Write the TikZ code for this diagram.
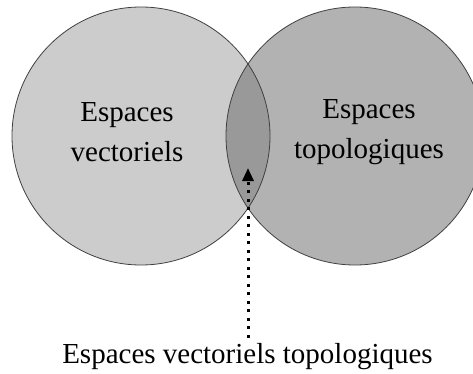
\documentclass[tikz,border=0pt]{standalone}
\usepackage{fontspec}
\setmainfont{Liberation Serif}
\usetikzlibrary{arrows.meta}
\definecolor{leftfill}{gray}{0.80}
\definecolor{rightfill}{gray}{0.70}
\definecolor{lensfill}{gray}{0.60}
\definecolor{edge}{gray}{0.25}
\tikzset{
  setcircle/.style={draw=edge, line width=0.8pt},
  labeltext/.style={font=\fontsize{29}{40}\selectfont, align=center, inner sep=0pt},
  pointer/.style={line width=3pt, dash pattern=on 3pt off 5.5pt, -{Triangle[width=11pt,length=13pt]}}
}
\begin{document}
\begin{tikzpicture}[x=1pt,y=-1pt]
\useasboundingbox (0,0) rectangle (473,374);
\clip (0,0) rectangle (473,374);
\coordinate (cl) at (141,136);
\coordinate (cr) at (355,136);
\fill[leftfill] (cl) circle[radius=129];
\fill[rightfill] (cr) circle[radius=129];
\begin{scope}
  \clip (cl) circle[radius=129];
  \fill[lensfill] (cr) circle[radius=129];
\end{scope}
\draw[setcircle] (cl) circle[radius=129];
\draw[setcircle] (cr) circle[radius=129];
\node[labeltext] (vect) at (127,132) {Espaces\\vectoriels};
\node[labeltext] (topo) at (369,132) {Espaces\\topologiques};
\node[labeltext, anchor=base] (evt) at (247.5,363) {Espaces vectoriels topologiques};
\coordinate (tip) at (248,168);
\draw[pointer] ([yshift=5pt]evt.north -| tip) -- (tip);
\end{tikzpicture}
\end{document}
